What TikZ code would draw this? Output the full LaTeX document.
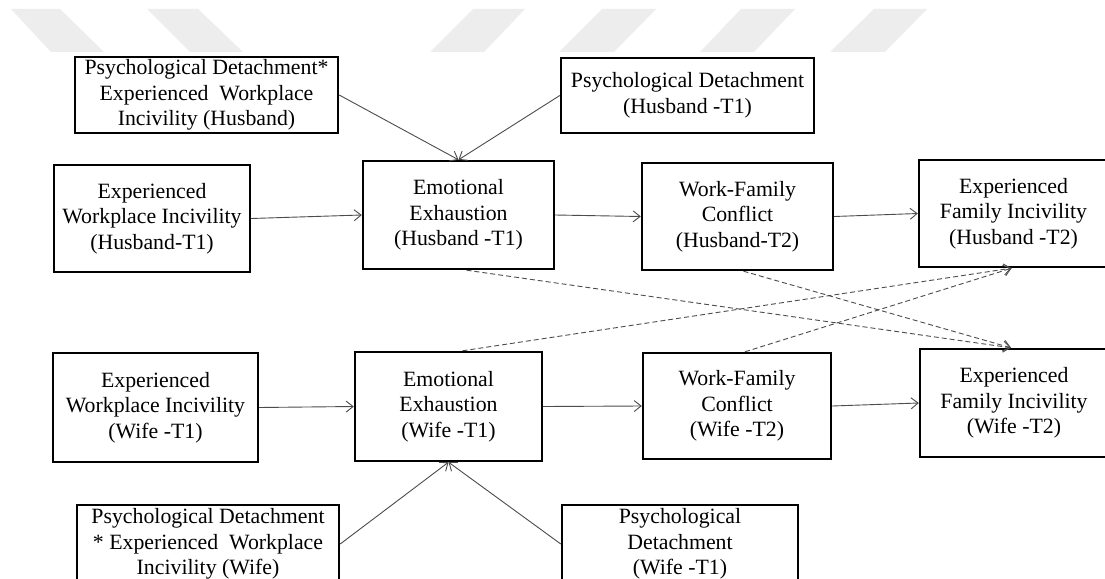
\documentclass[tikz,border=0pt]{standalone}
\usepackage{fontspec}
\setmainfont{Liberation Serif}
\usetikzlibrary{arrows.meta}
\def\boxfont{\fontsize{21.8}{25.5}\selectfont}
\tikzset{
	box/.style={draw, line width=2.4pt, inner sep=0pt, align=center, font=\boxfont},
	link/.style={line width=0.9pt, color=black!70, -{Straight Barb[length=7pt,width=11pt]}},
	cross/.style={link, dash pattern=on 5pt off 3pt}
}

\begin{document}
\begin{tikzpicture}[x=1pt, y=-1pt]
		%%%%% START %%%%%
		
		\clip (0, 0) rectangle (1105, 578);
		\fill[white] (0, 0) rectangle (1105, 578);
		
		\fill[black!7] (11, 9) -- (60, 9) -- (104, 52) -- (51, 52) -- cycle;
		\fill[black!7] (147, 9) -- (198, 9) -- (243, 52) -- (190, 52) -- cycle;
		\fill[black!7] (473, 9) -- (525, 9) -- (484, 52) -- (430, 52) -- cycle;
		\fill[black!7] (602, 9) -- (656, 9) -- (614, 52) -- (559, 52) -- cycle;
		\fill[black!7] (741, 9) -- (795, 9) -- (754, 52) -- (700, 52) -- cycle;
		\fill[black!7] (874, 9) -- (927, 9) -- (885, 52) -- (830, 52) -- cycle;
		
		\node[box, minimum width=263, minimum height=76] (pdewih) at (206.5, 95) {Psychological Detachment*\\Experienced~ Workplace\\Incivility (Husband)};
		\node[box, minimum width=253, minimum height=75] (pdh) at (687.5, 95.5) {Psychological Detachment\\(Husband -T1)};
		
		\node[box, minimum width=196, minimum height=107] (ewih) at (152, 218.5) {Experienced\\Workplace Incivility\\(Husband-T1)};
		\node[box, minimum width=191, minimum height=108] (eeh) at (458.5, 215) {Emotional\\Exhaustion\\(Husband -T1)};
		\node[box, minimum width=191, minimum height=107] (wfch) at (737.5, 216.5) {Work-Family\\Conflict\\(Husband-T2)};
		\node[box, minimum width=189, minimum height=107] (efih) at (1013.5, 213.5) {Experienced\\Family Incivility\\(Husband -T2)};
		
		\node[box, minimum width=205, minimum height=109] (ewiw) at (155.5, 407.5) {Experienced\\Workplace Incivility\\(Wife -T1)};
		\node[box, minimum width=187, minimum height=109] (eew) at (448.5, 406.5) {Emotional\\Exhaustion\\(Wife -T1)};
		\node[box, minimum width=188, minimum height=106] (wfcw) at (737, 406) {Work-Family\\Conflict\\(Wife -T2)};
		\node[box, minimum width=188, minimum height=108] (efiw) at (1014, 403) {Experienced\\Family Incivility\\(Wife -T2)};
		
		\node[box, minimum width=262, minimum height=78] (pdewiw) at (208, 544) {Psychological Detachment\\* Experienced~ Workplace\\Incivility (Wife)};
		\node[box, minimum width=236, minimum height=78] (pdw) at (680, 544) {Psychological\\Detachment\\(Wife -T1)};
		
		\draw[link] (pdewih.east) -- (eeh.north);
		\draw[link] (pdh.west) -- (eeh.north);
		\draw[link] (ewih.east) -- (eeh.west);
		\draw[link] (eeh.east) -- (wfch.west);
		\draw[link] (wfch.east) -- (efih.west);
		
		\draw[link] (ewiw.east) -- (eew.west);
		\draw[link] (eew.east) -- (wfcw.west);
		\draw[link] (wfcw.east) -- (efiw.west);
		\draw[link] (pdewiw.east) -- (eew.south);
		\draw[link] (pdw.west) -- (eew.south);
		
		\draw[cross] ([xshift=8]eeh.south) -- ([xshift=-3]efiw.north);
		\draw[cross] ([xshift=6]wfch.south) -- ([xshift=-3]efiw.north);
		\draw[cross] ([xshift=14]eew.north) -- ([xshift=-2]efih.south);
		\draw[cross] ([xshift=8]wfcw.north) -- ([xshift=-2]efih.south);
		
		%%%%% END %%%%%
\end{tikzpicture}
\end{document}
